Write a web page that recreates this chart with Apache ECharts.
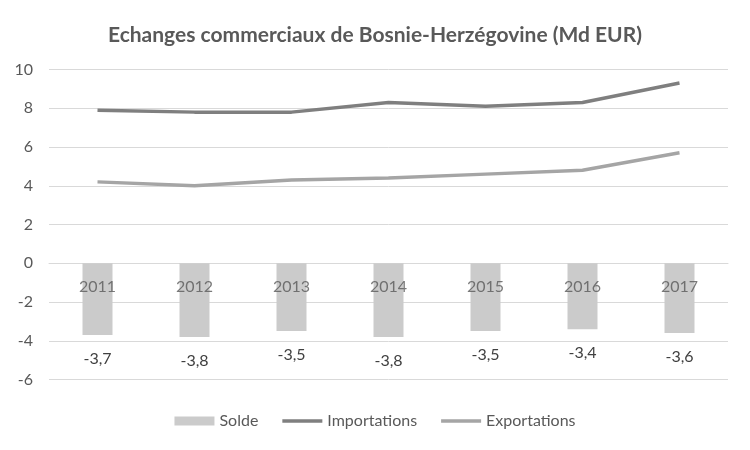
<!DOCTYPE html>
<html><head><meta charset="utf-8">
<script src="https://cdn.jsdelivr.net/npm/echarts@6/dist/echarts.min.js"></script>
<style>html,body{margin:0;padding:0;background:#fff}#c{width:750px;height:450px}</style>
</head><body><div id="c"></div>
<script>
const titleText = "Echanges commerciaux de Bosnie-Herzégovine (Md EUR)";
const categories = ["2011","2012","2013","2014","2015","2016","2017"];
const solde = [-3.7,-3.8,-3.5,-3.8,-3.5,-3.4,-3.6];
const importations = [7.9,7.8,7.8,8.3,8.1,8.3,9.3];
const exportations = [4.2,4.0,4.3,4.4,4.6,4.8,5.7];
const FONT = "Lato";
const lineIcon = 'path://M0,0H40V3.5H0Z';
// category labels sit on the zero line (as in the original chart)
const categoryLabelPoints = categories.map(c => [c, 0]);
const chart = echarts.init(document.getElementById('c'), null, {renderer:'canvas'});
chart.setOption({
  animation:false,
  backgroundColor:'#fff',
  title:{text:titleText,left:'center',top:20,textStyle:{fontFamily:FONT,fontSize:21,fontWeight:'bold',color:'#595959'}},
  grid:{left:49,right:22,top:69.5,bottom:70.5,containLabel:false},
  legend:{bottom:16,left:'center',itemGap:24,itemWidth:40,itemHeight:9,textStyle:{fontFamily:FONT,fontSize:16,color:'#595959'},
    data:[{name:'Solde',icon:'rect'},{name:'Importations',icon:lineIcon},{name:'Exportations',icon:lineIcon}]},
  xAxis:{type:'category',data:categories,axisLine:{show:true,onZero:true,lineStyle:{color:'#d9d9d9',width:1}},axisTick:{show:false},
    axisLabel:{show:false}},
  yAxis:{type:'value',min:-6,max:10,interval:2,axisLine:{show:false},axisTick:{show:false},
    splitLine:{lineStyle:{color:'#d9d9d9',width:1}},
    axisLabel:{margin:16,fontFamily:FONT,fontSize:16,color:'#595959'}},
  series:[
    {name:'Solde',type:'bar',data:solde,barWidth:30,itemStyle:{color:'#cbcbcb'},
      label:{show:true,position:'bottom',distance:16,fontFamily:FONT,fontSize:16,color:'#404040',
        formatter:p=>String(p.value).replace('.',',')}},
    {name:'Importations',type:'line',data:importations,symbol:'none',lineStyle:{color:'#7f7f7f',width:3.5},itemStyle:{color:'#7f7f7f'}},
    {name:'Exportations',type:'line',data:exportations,symbol:'none',lineStyle:{color:'#a5a5a5',width:3.5},itemStyle:{color:'#a5a5a5'}},
    {name:'axisLabels',type:'scatter',data:categoryLabelPoints,symbolSize:0,silent:true,z:20,
      label:{show:true,position:'bottom',distance:16,fontFamily:FONT,fontSize:16,color:'#595959',
        formatter:p=>p.value[0]}}
  ]
});
</script></body></html>
